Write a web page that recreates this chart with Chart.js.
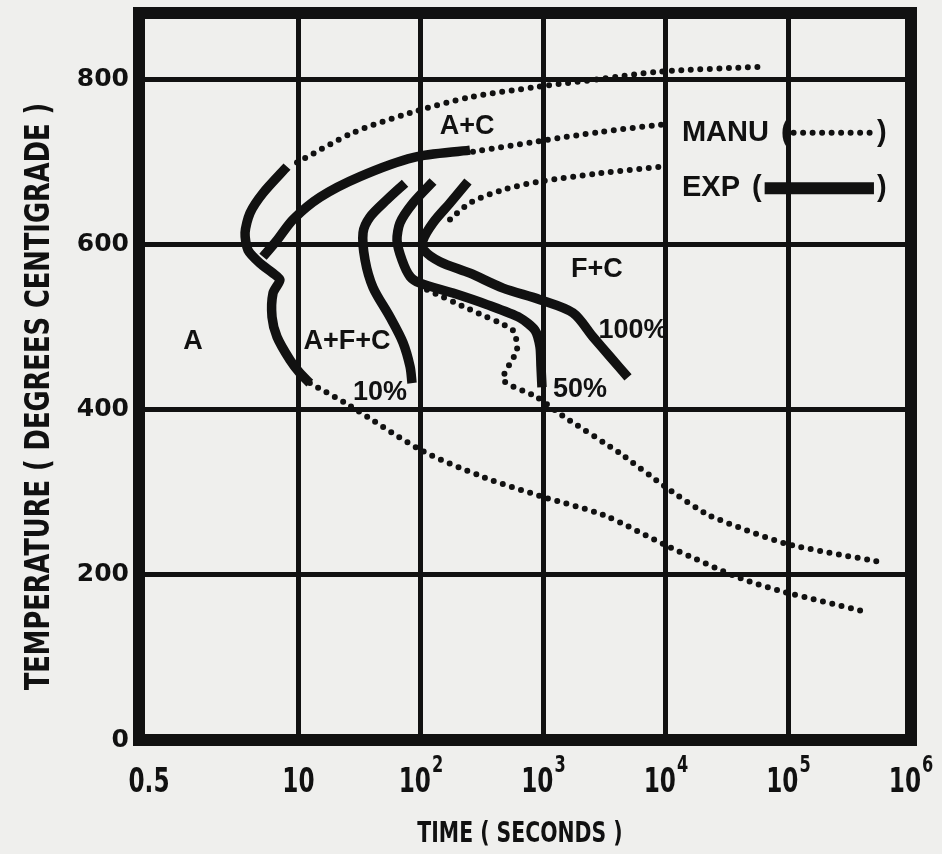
<!DOCTYPE html>
<html>
<head>
<meta charset="utf-8">
<title>Temperature vs time</title>
<script src="https://cdn.jsdelivr.net/npm/chart.js@4.4.1/dist/chart.umd.min.js"></script>
<style>
  html, body { margin: 0; padding: 0; background: #efefed; }
</style>
</head>
<body>
<canvas id="myChart" width="942" height="854"></canvas>
<script>
// axis ticks
const xTicks = [0.5, 10, 100, 1000, 10000, 100000, 1000000];
const xTickBase = ["0.5", "10", "10", "10", "10", "10", "10"];
const xTickExp = ["", "", "2", "3", "4", "5", "6"];
const yTicks = [0, 200, 400, 600, 800];

// EXP curves, [time (s), temperature (C)]
const expStart = [[8.07, 694], [5.14, 662], [4.03, 638], [3.67, 614], [3.88, 593], [4.86, 577], [6.21, 565], [7.07, 557], [6.21, 541], [6.09, 512], [6.69, 488], [8.54, 460], [10.3, 444], [12.4, 432]];
const expUpper = [[251.5, 714], [86.2, 705], [31.8, 682], [15.0, 657], [9.03, 630], [6.69, 605], [5.14, 585]];
const exp10 = [[74.2, 674], [52.9, 654], [38.4, 633], [33.7, 614], [35.0, 581], [40.6, 548], [55.9, 512], [71.4, 481], [81.5, 452], [84.6, 432]];
const exp50 = [[125.5, 676], [86.2, 650], [67.5, 626], [63.8, 605], [70.1, 581], [81.5, 561], [98.3, 553], [182.7, 541], [346, 527], [644, 511], [853, 496], [937, 476], [955, 452], [973, 427]];
const exp100 = [[242, 676], [172.8, 650], [125.5, 626], [104, 605], [106, 593], [143, 579], [251.5, 565], [468, 547], [937, 533], [1743, 517], [2538, 488], [3494, 464], [4900, 439]];

// MANU curves
const manuTop = [[9.74, 699], [27.9, 735], [81.5, 759], [251.5, 778], [937, 791], [2896, 800], [8940, 809], [60800, 815]];
const manuMid = [[266, 712], [937, 725], [2896, 736], [9284, 745]];
const manuLow = [[172.8, 630], [251.5, 650], [468, 666], [937, 676], [2896, 686], [9284, 694]];
const manuBottom = [[12.4, 432], [25.4, 406], [100, 351], [327, 318], [955, 295], [3121, 272], [10200, 235], [40200, 196], [93700, 179], [406000, 156]];
const manu50 = [[112, 545], [251.5, 521], [564, 496], [608, 472], [468, 436], [886, 415], [1418, 393], [4215, 347], [10200, 305], [22460, 272], [93700, 238], [580000, 215]];

// region labels [text, time, temperature]
const regionLabels = [
  ["A", 1.38, 482],
  ["A+F+C", 24.9, 482],
  ["10%", 46.4, 421],
  ["A+C", 238, 742],
  ["F+C", 2735, 569],
  ["100%", 5380, 496],
  ["50%", 1986, 424]
];

const ink = "#111";
const paper = "#efefed";
const cond = "'DejaVu Sans Condensed', 'Liberation Sans Narrow', 'Liberation Sans', sans-serif";

function curve(label, pts, dotted, tension) {
  return {
    label: label,
    data: pts.map(p => ({ x: p[0], y: p[1] })),
    borderColor: ink,
    borderWidth: dotted ? 6 : 9.5,
    borderDash: dotted ? [0, 9.5] : [],
    borderCapStyle: dotted ? "round" : "butt",
    borderJoinStyle: "round",
    pointRadius: 0,
    tension: tension,
    fill: false
  };
}

// text squeezed sideways, the scan uses a very condensed face
function squeezed(c, text, x, y, sx, angle) {
  c.save();
  c.translate(x, y);
  c.rotate(angle);
  c.scale(sx, 1);
  c.fillText(text, 0, 0);
  c.restore();
}

// paper, frame, labels, legend, axis texts
const decor = {
  id: "decor",
  beforeDraw(chart) {
    const c = chart.ctx;
    c.save();
    c.fillStyle = paper;
    c.fillRect(0, 0, chart.width, chart.height);
    c.restore();
  },
  beforeDatasetsDraw(chart) {
    const a = chart.chartArea, c = chart.ctx;
    c.save();
    c.strokeStyle = ink;
    c.lineWidth = 12;
    c.strokeRect(a.left, a.top, a.right - a.left, a.bottom - a.top);
    c.restore();
  },
  afterDatasetsDraw(chart) {
    const c = chart.ctx, a = chart.chartArea;
    const xs = chart.scales.x, ys = chart.scales.y;
    c.save();
    c.fillStyle = ink;
    c.textAlign = "center";
    c.textBaseline = "middle";
    c.font = "bold 27px 'Liberation Sans', sans-serif";
    regionLabels.forEach(l => {
      c.fillText(l[0], xs.getPixelForValue(l[1]), ys.getPixelForValue(l[2]));
    });

    // legend
    const lx = xs.getPixelForValue(10000) + 16;
    const endX = lx + 192;
    c.textAlign = "left";
    c.font = "bold 29px 'Liberation Sans', sans-serif";
    const rows = [["MANU", 735, true], ["EXP", 668, false]];
    rows.forEach(r => {
      const y = ys.getPixelForValue(r[1]);
      c.fillText(r[0], lx, y);
      const px = lx + c.measureText(r[0]).width + 12;
      c.fillText("(", px, y);
      const start = px + c.measureText("(").width + 3;
      c.beginPath();
      c.moveTo(start, y);
      c.lineTo(endX, y);
      c.strokeStyle = ink;
      if (r[2]) {
        c.lineWidth = 6; c.lineCap = "round"; c.setLineDash([0, 9.5]);
      } else {
        c.lineWidth = 12; c.lineCap = "butt"; c.setLineDash([]);
      }
      c.stroke();
      c.setLineDash([]);
      c.fillText(")", endX + 3, y);
    });

    // x tick labels with raised exponents
    c.textBaseline = "alphabetic";
    const sq = 0.78;
    xTicks.forEach((v, i) => {
      const px = xs.getPixelForValue(v) + (i === 0 ? 10 : 0);
      c.font = "bold 33px " + cond;
      const wb = c.measureText(xTickBase[i]).width * sq;
      c.font = "bold 23px " + cond;
      const we = xTickExp[i] ? c.measureText(xTickExp[i]).width * sq + 1 : 0;
      const x0 = px - (wb + we) / 2;
      c.font = "bold 33px " + cond;
      squeezed(c, xTickBase[i], x0, a.bottom + 52, sq, 0);
      if (xTickExp[i]) {
        c.font = "bold 23px " + cond;
        squeezed(c, xTickExp[i], x0 + wb + 1, a.bottom + 32, sq, 0);
      }
    });

    // axis titles
    c.textAlign = "center";
    c.textBaseline = "middle";
    c.font = "bold 28px " + cond;
    squeezed(c, "TIME ( SECONDS )", (a.left + a.right) / 2 - 5, 835, 0.81, 0);
    c.font = "bold 34px " + cond;
    squeezed(c, "TEMPERATURE ( DEGREES CENTIGRADE )", 40, (a.top + a.bottom) / 2 + 20, 0.84, -Math.PI / 2);
    c.restore();
  }
};

const ctx = document.getElementById("myChart");
const myChart = new Chart(ctx, {
  type: "line",
  data: {
    datasets: [
      curve("EXP", expStart, false, 0.25),
      curve("EXP", expUpper, false, 0.3),
      curve("EXP 10%", exp10, false, 0.3),
      curve("EXP 50%", exp50, false, 0.25),
      curve("EXP 100%", exp100, false, 0.3),
      curve("MANU", manuTop, true, 0.3),
      curve("MANU", manuMid, true, 0.3),
      curve("MANU", manuLow, true, 0.3),
      curve("MANU", manuBottom, true, 0.3),
      curve("MANU 50%", manu50, true, 0.2)
    ]
  },
  options: {
    responsive: false,
    animation: false,
    layout: { padding: { left: 0, right: 31, top: 13, bottom: 0 } },
    plugins: { legend: { display: false }, tooltip: { enabled: false } },
    scales: {
      x: {
        type: "logarithmic",
        min: 0.5,
        max: 1000000,
        afterBuildTicks: s => { s.ticks = xTicks.map(v => ({ value: v })); },
        afterFit: s => { s.height = 114; s.paddingLeft = 0; s.paddingRight = 0; },
        grid: { color: ink, lineWidth: 5, drawTicks: false },
        border: { display: false },
        ticks: { display: false }
      },
      y: {
        min: 0,
        max: 880,
        afterBuildTicks: s => { s.ticks = yTicks.map(v => ({ value: v })); },
        afterFit: s => { s.width = 139; s.paddingTop = 0; s.paddingBottom = 0; },
        grid: { color: ink, lineWidth: 5, drawTicks: false },
        border: { display: false },
        ticks: {
          color: ink,
          padding: 10,
          font: { family: "'DejaVu Sans', sans-serif", size: 25, weight: "bold" }
        }
      }
    }
  },
  plugins: [decor]
});
</script>
</body>
</html>
